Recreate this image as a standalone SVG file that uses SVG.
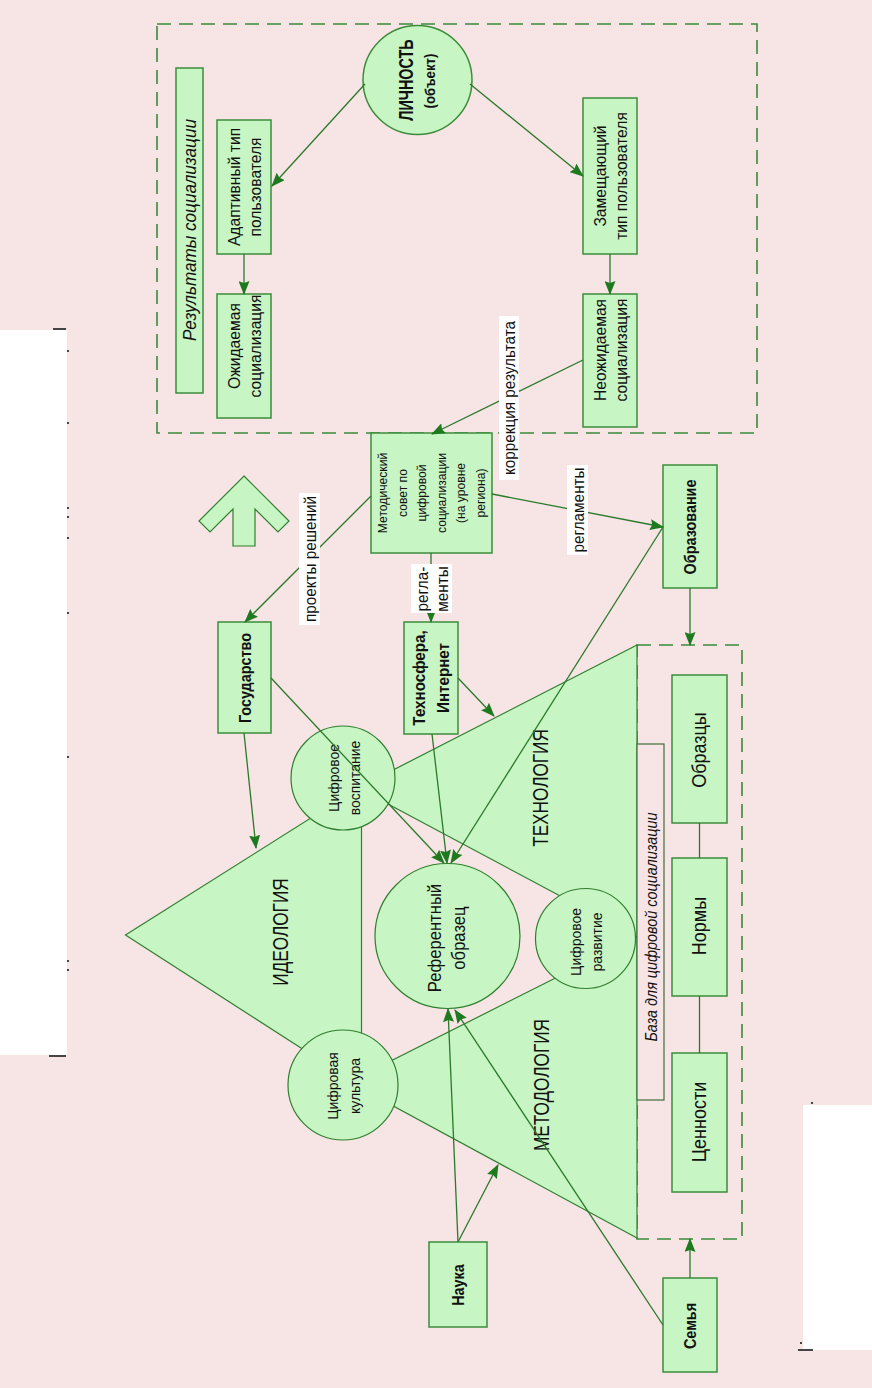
<svg xmlns="http://www.w3.org/2000/svg" width="872" height="1388" viewBox="0 0 872 1388">
<defs>
<style>
.box{fill:#c8f5c4;stroke:#3c8c3c;stroke-width:1.5}
.shape{fill:#c8f5c4;stroke:#2f7f2f;stroke-width:1.2}
.dash{fill:none;stroke:#3a8a3a;stroke-width:1.6;stroke-dasharray:14 8}
.conn{fill:none;stroke:#2a7a2a;stroke-width:1.3}
.arr{marker-end:url(#ah)}
.lbl{fill:#ffffff;stroke:none}
.t{font-family:"Liberation Sans",Arial,sans-serif;fill:#111;text-anchor:middle;dominant-baseline:central}
.b{font-weight:bold}
.i{font-style:italic}
.s17{font-size:17px}
.bl{font-size:16px;font-weight:bold}
.mark{fill:#444}
</style>
<marker id="ah" viewBox="0 0 14 11" refX="13" refY="5.5" markerWidth="14" markerHeight="11" orient="auto" markerUnits="userSpaceOnUse">
<path d="M0,0 L14,5.5 L0,11 L2,5.5 z" fill="#1e7a1e"/>
</marker>
</defs>

<rect x="0" y="0" width="872" height="1388" fill="#f7e4e4"/>
<g id="page-marks">
<rect x="0" y="330" width="67" height="725" fill="#ffffff"/>
<rect x="803" y="1105" width="69" height="245" fill="#ffffff"/>
<rect class="mark" x="53" y="328" width="13" height="2"/>
<rect class="mark" x="49" y="1055" width="17" height="2"/>
<rect class="mark" x="798" y="1349" width="15" height="2"/>
<rect class="mark" x="67" y="350" width="2" height="2"/>
<rect class="mark" x="67" y="422" width="2" height="2"/>
<rect class="mark" x="67" y="507" width="2" height="2"/>
<rect class="mark" x="67" y="516" width="2" height="2"/>
<rect class="mark" x="67" y="537" width="2" height="2"/>
<rect class="mark" x="67" y="612" width="2" height="2"/>
<rect class="mark" x="67" y="756" width="2" height="2"/>
<rect class="mark" x="67" y="960" width="2" height="2"/>
<rect class="mark" x="67" y="969" width="2" height="2"/>
<rect class="mark" x="811" y="1102" width="2" height="2"/>
<rect class="mark" x="800" y="1342" width="2" height="2"/>
</g>

<!-- containers -->
<g id="results-frame">
<rect class="dash" x="157" y="24" width="600" height="409"/>
</g>
<g id="base-frame">
<rect class="dash" x="637" y="645" width="105" height="594"/>
</g>

<!-- triangles -->
<g id="ideology">
<polygon class="shape" points="125.5,935 361.5,786 361.5,1087"/>
<text class="t" font-size="21.5" transform="translate(280.5,932) rotate(-90) scale(0.8,1)">ИДЕОЛОГИЯ</text>
</g>
<g id="technology">
<polygon class="shape" points="637,645 358,788 637,937"/>
<text class="t" font-size="21.5" transform="translate(540,788) rotate(-90) scale(0.8,1)">ТЕХНОЛОГИЯ</text>
</g>
<g id="methodology">
<polygon class="shape" points="637,937 349,1082 637,1238"/>
<text class="t" font-size="21.5" transform="translate(541,1085) rotate(-90) scale(0.8,1)">МЕТОДОЛОГИЯ</text>
</g>

<!-- circles -->
<g id="digital-upbringing">
<circle class="shape" cx="343" cy="778" r="52"/>
<text class="t" font-size="15.5" transform="translate(333.5,778) rotate(-90) scale(0.9,1)">Цифровое</text>
<text class="t" font-size="15.5" transform="translate(354.5,778) rotate(-90) scale(0.9,1)">воспитание</text>
</g>
<g id="digital-development">
<circle class="shape" cx="585.5" cy="938.5" r="50"/>
<text class="t" font-size="15.5" transform="translate(576,942) rotate(-90) scale(0.9,1)">Цифровое</text>
<text class="t" font-size="15.5" transform="translate(597,942) rotate(-90) scale(0.9,1)">развитие</text>
</g>
<g id="digital-culture">
<circle class="shape" cx="343" cy="1085" r="55"/>
<text class="t" font-size="15.5" transform="translate(333,1086) rotate(-90) scale(0.9,1)">Цифровая</text>
<text class="t" font-size="15.5" transform="translate(355,1086) rotate(-90) scale(0.9,1)">культура</text>
</g>
<g id="reference-model">
<circle class="shape" cx="447.5" cy="936" r="72.5"/>
<text class="t" font-size="18.5" transform="translate(435,938) rotate(-90) scale(0.9,1)">Референтный</text>
<text class="t" font-size="18.5" transform="translate(459,938) rotate(-90) scale(0.9,1)">образец</text>
</g>

<!-- top block -->
<g id="results-title">
<rect class="box" x="176" y="68" width="27" height="325"/>
<text class="t i" font-size="19" transform="translate(190,230) rotate(-90) scale(0.9,1)">Результаты социализации</text>
</g>
<g id="personality">
<circle class="box" cx="417.5" cy="80" r="54.5"/>
<text class="t b" font-size="20" transform="translate(406.5,80) rotate(-90) scale(0.72,1)">ЛИЧНОСТЬ</text>
<text class="t b" font-size="15" transform="translate(429.5,81) rotate(-90) scale(0.88,1)">(объект)</text>
</g>
<g id="adaptive">
<rect class="box" x="217" y="120" width="54" height="134"/>
<text class="t s17" transform="translate(233.5,187) rotate(-90) scale(0.92,1)">Адаптивный тип</text>
<text class="t s17" transform="translate(255,187) rotate(-90) scale(0.92,1)">пользователя</text>
</g>
<g id="expected">
<rect class="box" x="217" y="294" width="54" height="124"/>
<text class="t s17" transform="translate(233.5,346) rotate(-90) scale(0.92,1)">Ожидаемая</text>
<text class="t s17" transform="translate(255,346) rotate(-90) scale(0.92,1)">социализация</text>
</g>
<g id="substitute">
<rect class="box" x="583" y="98" width="54" height="156"/>
<text class="t s17" transform="translate(599.5,176) rotate(-90) scale(0.92,1)">Замещающий</text>
<text class="t s17" transform="translate(621,176) rotate(-90) scale(0.92,1)">тип пользователя</text>
</g>
<g id="unexpected">
<rect class="box" x="583" y="294" width="54" height="133"/>
<text class="t s17" transform="translate(599.5,350) rotate(-90) scale(0.92,1)">Неожидаемая</text>
<text class="t s17" transform="translate(621,350) rotate(-90) scale(0.92,1)">социализация</text>
</g>

<g id="council">
<rect class="box" x="371" y="433" width="121" height="120"/>
<text class="t" font-size="13.5" transform="translate(382.5,493) rotate(-90) scale(0.9,1)">Методический</text>
<text class="t" font-size="13.5" transform="translate(402,493) rotate(-90) scale(0.9,1)">совет по</text>
<text class="t" font-size="13.5" transform="translate(421.5,493) rotate(-90) scale(0.9,1)">цифровой</text>
<text class="t" font-size="13.5" transform="translate(441,493) rotate(-90) scale(0.9,1)">социализации</text>
<text class="t" font-size="13.5" transform="translate(460.5,493) rotate(-90) scale(0.9,1)">(на уровне</text>
<text class="t" font-size="13.5" transform="translate(480,493) rotate(-90) scale(0.9,1)">региона)</text>
</g>

<g id="up-arrow">
<polygon class="shape" points="244,476 289,521 278,532 255,509 255,546 233,546 233,509 210,532 199,521"/>
</g>

<g id="state">
<rect class="box" x="218" y="622" width="53" height="111"/>
<text class="t bl" transform="translate(245,678) rotate(-90) scale(0.9,1)">Государство</text>
</g>
<g id="technosphere">
<rect class="box" x="404" y="622" width="54" height="112"/>
<text class="t b" font-size="16.5" transform="translate(419.5,678) rotate(-90) scale(0.92,1)">Техносфера,</text>
<text class="t b" font-size="16.5" transform="translate(443,678) rotate(-90) scale(0.92,1)">Интернет</text>
</g>
<g id="education">
<rect class="box" x="663" y="465" width="54" height="123"/>
<text class="t bl" transform="translate(690,527) rotate(-90) scale(0.9,1)">Образование</text>
</g>
<g id="science">
<rect class="box" x="429" y="1242" width="58" height="85"/>
<text class="t bl" transform="translate(458,1285) rotate(-90) scale(0.9,1)">Наука</text>
</g>
<g id="family">
<rect class="box" x="663" y="1278" width="54" height="94"/>
<text class="t bl" transform="translate(690,1326) rotate(-90) scale(0.9,1)">Семья</text>
</g>

<g id="base-label">
<rect x="637" y="744" width="27" height="356" fill="#f7e4e4" stroke="#3f6f3f" stroke-width="1.2"/>
<text class="t i" font-size="16" transform="translate(651,927) rotate(-90) scale(0.9,1)">База для цифровой социализации</text>
</g>
<g id="samples">
<rect class="box" x="672" y="675" width="55" height="148"/>
<text class="t" font-size="20" transform="translate(699.5,750) rotate(-90) scale(0.9,1)">Образцы</text>
</g>
<g id="norms">
<rect class="box" x="672" y="858" width="55" height="138"/>
<text class="t" font-size="20" transform="translate(699.5,926) rotate(-90) scale(0.9,1)">Нормы</text>
</g>
<g id="values">
<rect class="box" x="672" y="1053" width="55" height="139"/>
<text class="t" font-size="20" transform="translate(699.5,1122) rotate(-90) scale(0.9,1)">Ценности</text>
</g>

<!-- connectors -->
<g id="connectors">
<line class="conn arr" x1="365" y1="84" x2="272" y2="186"/>
<line class="conn arr" x1="470" y1="84" x2="583" y2="176"/>
<line class="conn arr" x1="244" y1="254" x2="244" y2="294"/>
<line class="conn arr" x1="610" y1="254" x2="610" y2="294"/>
<line class="conn arr" x1="583" y1="360" x2="432" y2="434"/>
<line class="conn arr" x1="371" y1="496" x2="245" y2="622"/>
<line class="conn arr" x1="431" y1="553" x2="431" y2="622"/>
<line class="conn arr" x1="492" y1="494" x2="663" y2="527"/>
<line class="conn arr" x1="690" y1="588" x2="690" y2="645"/>
<line class="conn arr" x1="663" y1="527" x2="451" y2="863"/>
<line class="conn arr" x1="244" y1="733" x2="256" y2="848"/>
<line class="conn arr" x1="271" y1="678" x2="444" y2="863"/>
<line class="conn arr" x1="458" y1="678" x2="494" y2="716"/>
<line class="conn arr" x1="432" y1="734" x2="447" y2="863"/>
<line class="conn arr" x1="458" y1="1242" x2="448" y2="1009"/>
<line class="conn arr" x1="458" y1="1242" x2="498" y2="1165"/>
<line class="conn arr" x1="663" y1="1325" x2="455" y2="1010"/>
<line class="conn arr" x1="690" y1="1278" x2="690" y2="1239"/>
<line class="conn" x1="699.5" y1="823" x2="699.5" y2="858"/>
<line class="conn" x1="699.5" y1="996" x2="699.5" y2="1053"/>
</g>

<!-- connector labels -->
<g id="labels">
<rect class="lbl" x="499" y="316" width="20" height="164"/>
<text class="t s17" transform="translate(509,398) rotate(-90) scale(0.9,1)">коррекция результата</text>
<rect class="lbl" x="567" y="465" width="21" height="90"/>
<text class="t s17" transform="translate(577.5,510) rotate(-90) scale(0.9,1)">регламенты</text>
<rect class="lbl" x="299" y="493" width="21" height="132"/>
<text class="t s17" transform="translate(309.5,559) rotate(-90) scale(0.9,1)">проекты решений</text>
<rect class="lbl" x="411" y="564" width="41" height="49"/>
<text class="t s17" transform="translate(421.5,589) rotate(-90) scale(0.9,1)">регла-</text>
<text class="t s17" transform="translate(442,589) rotate(-90) scale(0.9,1)">менты</text>
</g>
</svg>
